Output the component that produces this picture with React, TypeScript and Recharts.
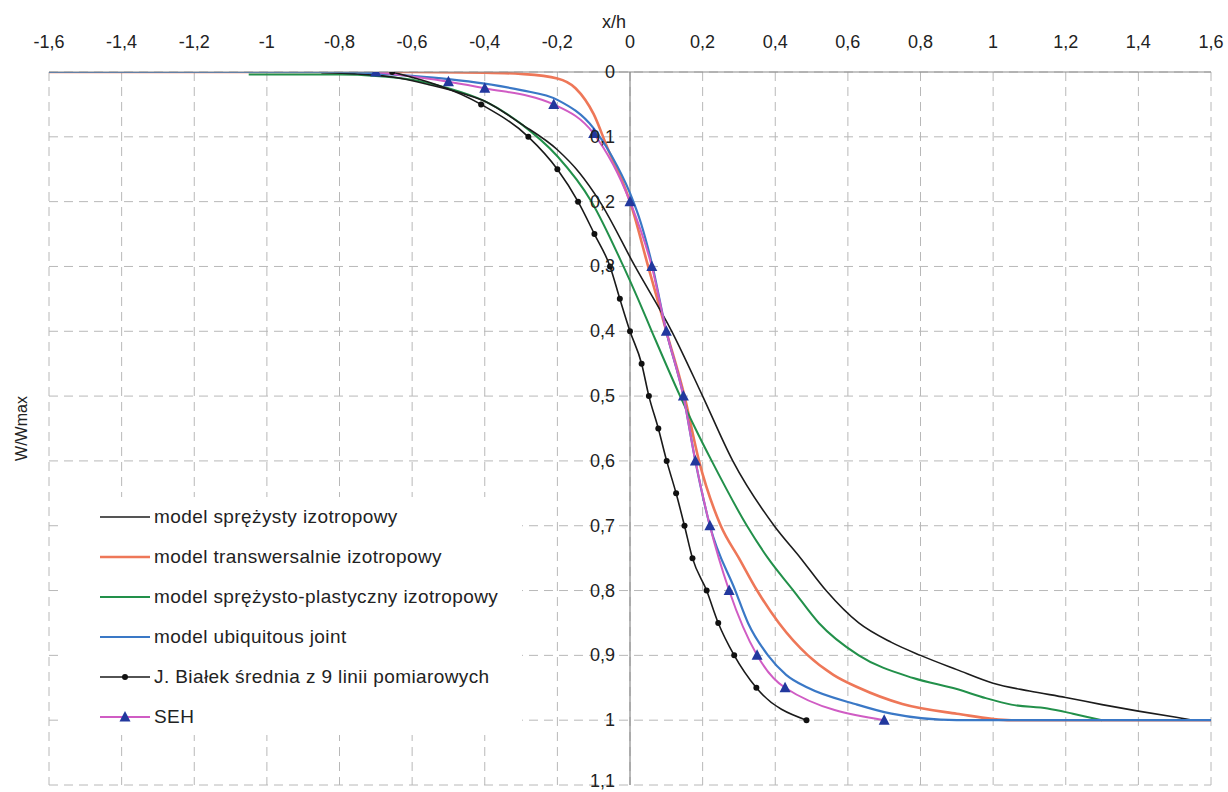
import React from 'react';
import { LineChart, Line, XAxis, YAxis, CartesianGrid, ReferenceLine, Legend } from 'recharts';

// ---- axis ticks ----
const X_TICKS = [-1.6, -1.4, -1.2, -1, -0.8, -0.6, -0.4, -0.2, 0, 0.2, 0.4, 0.6, 0.8, 1, 1.2, 1.4, 1.6];
const Y_TICKS = [0, 0.1, 0.2, 0.3, 0.4, 0.5, 0.6, 0.7, 0.8, 0.9, 1, 1.1];

// ---- series: model sprężysty izotropowy ----
const elasticX = [-0.85, -0.75, -0.65, -0.55, -0.45, -0.4, -0.3, -0.2, -0.14, -0.083, 0.014, 0.115, 0.2, 0.283, 0.397, 0.47, 0.54, 0.63, 0.72, 0.8, 0.9, 1.0, 1.1, 1.2, 1.3, 1.4, 1.5, 1.56, 1.6];
const elasticY = [0.001, 0.003, 0.008, 0.02, 0.035, 0.045, 0.08, 0.12, 0.155, 0.2, 0.3, 0.4, 0.5, 0.6, 0.7, 0.75, 0.8, 0.85, 0.88, 0.9, 0.922, 0.943, 0.955, 0.965, 0.976, 0.986, 0.995, 1.0, 1.0];

// ---- model transwersalnie izotropowy ----
const transX = [-1.6, -0.6, -0.4, -0.3, -0.2, -0.15, -0.1, -0.06, -0.02, 0, 0.05, 0.1, 0.15, 0.19, 0.25, 0.3, 0.35, 0.41, 0.49, 0.56, 0.63, 0.75, 0.9, 1.05, 1.6];
const transY = [0, 0, 0.001, 0.003, 0.01, 0.025, 0.065, 0.12, 0.17, 0.2, 0.3, 0.4, 0.5, 0.6, 0.7, 0.75, 0.8, 0.85, 0.9, 0.93, 0.95, 0.975, 0.99, 1.0, 1.0];

// ---- model sprężysto-plastyczny izotropowy ----
const plasticX = [-1.05, -0.8, -0.7, -0.6, -0.5, -0.4, -0.3, -0.2, -0.106, -0.018, 0.022, 0.06, 0.138, 0.18, 0.225, 0.322, 0.38, 0.45, 0.52, 0.63, 0.78, 0.9, 0.98, 1.05, 1.15, 1.22, 1.3];
const plasticY = [0.004, 0.004, 0.006, 0.012, 0.025, 0.045, 0.08, 0.13, 0.2, 0.3, 0.35, 0.4, 0.5, 0.55, 0.6, 0.7, 0.75, 0.8, 0.85, 0.9, 0.935, 0.952, 0.966, 0.976, 0.982, 0.99, 1.0];

// ---- model ubiquitous joint ----
const ubiqX = [-1.6, -0.8, -0.7, -0.6, -0.5, -0.4, -0.3, -0.2, -0.1, -0.05, 0, 0.03, 0.06, 0.1, 0.147, 0.18, 0.22, 0.29, 0.325, 0.38, 0.43, 0.49, 0.62, 0.72, 0.9, 1.6];
const ubiqY = [0, 0, 0.002, 0.006, 0.011, 0.018, 0.028, 0.043, 0.087, 0.13, 0.187, 0.233, 0.295, 0.4, 0.5, 0.6, 0.7, 0.8, 0.85, 0.9, 0.93, 0.95, 0.975, 0.99, 1.0, 1.0];

// ---- J. Białek średnia z 9 linii pomiarowych ----
const bialekX = [-0.655, -0.41, -0.28, -0.2, -0.143, -0.098, -0.055, -0.028, 0, 0.032, 0.052, 0.078, 0.101, 0.127, 0.15, 0.172, 0.211, 0.243, 0.287, 0.348, 0.486];
const bialekY = [0, 0.05, 0.1, 0.15, 0.2, 0.25, 0.3, 0.35, 0.4, 0.45, 0.5, 0.55, 0.6, 0.65, 0.7, 0.75, 0.8, 0.85, 0.9, 0.95, 1.0];

// ---- SEH ----
const sehX = [-0.7, -0.5, -0.4, -0.21, -0.1, 0, 0.06, 0.1, 0.147, 0.18, 0.22, 0.273, 0.35, 0.427, 0.7];
const sehY = [0, 0.015, 0.025, 0.05, 0.095, 0.2, 0.3, 0.4, 0.5, 0.6, 0.7, 0.8, 0.9, 0.95, 1.0];

const toPts = (xs: number[], ys: number[]) => xs.map((x, i) => ({ x, y: ys[i] }));

const FONT = '"Liberation Sans", Arial, Helvetica, sans-serif';
const W = 1228;
const H = 792;
const Y_AXIS_W = 49;
const RIGHT = 17;
const PLOT_W = W - Y_AXIS_W - RIGHT;
const X_MIN = -1.6;
const X_MAX = 1.6;
const ZERO_X = Y_AXIS_W + (PLOT_W * (0 - X_MIN)) / (X_MAX - X_MIN);

const fmt = (v: number) => String(Number(v.toFixed(1))).replace('.', ',');

type Series = {
  name: string;
  data: { x: number; y: number }[];
  color: string;
  width: number;
  marker?: 'dot' | 'tri';
  markerColor?: string;
};

const SERIES_TRANS: Series = { name: 'model transwersalnie izotropowy', data: toPts(transX, transY), color: '#EE7758', width: 2.6 };
const SERIES_PLASTIC: Series = { name: 'model sprężysto-plastyczny izotropowy', data: toPts(plasticX, plasticY), color: '#22904A', width: 2 };
const SERIES_ELASTIC: Series = { name: 'model sprężysty izotropowy', data: toPts(elasticX, elasticY), color: '#1c1c1c', width: 1.6 };
const SERIES_UBIQ: Series = { name: 'model ubiquitous joint', data: toPts(ubiqX, ubiqY), color: '#3A78C6', width: 2.2 };
const SERIES_SEH: Series = { name: 'SEH', data: toPts(sehX, sehY), color: '#D05CC4', width: 2, marker: 'tri', markerColor: '#22389E' };
const SERIES_BIALEK: Series = { name: 'J. Białek średnia z 9 linii pomiarowych', data: toPts(bialekX, bialekY), color: '#1a1a1a', width: 1.6, marker: 'dot', markerColor: '#111' };

const DRAW_ORDER = [SERIES_TRANS, SERIES_PLASTIC, SERIES_ELASTIC, SERIES_UBIQ, SERIES_SEH, SERIES_BIALEK];
const LEGEND_ORDER = [SERIES_ELASTIC, SERIES_TRANS, SERIES_PLASTIC, SERIES_UBIQ, SERIES_BIALEK, SERIES_SEH];

const Triangle = ({ cx, cy, color }: { cx: number; cy: number; color: string }) => (
  <polygon points={`${cx},${cy - 6} ${cx + 5.5},${cy + 4.5} ${cx - 5.5},${cy + 4.5}`} fill={color} />
);

const renderMarker = (s: Series) => (props: any) => {
  const { cx, cy, index } = props;
  if (cx == null || cy == null) return <g key={`e-${index}`} />;
  if (s.marker === 'tri') return <Triangle key={`t-${index}`} cx={cx} cy={cy} color={s.markerColor || s.color} />;
  return <circle key={`c-${index}`} cx={cx} cy={cy} r={3} fill={s.markerColor || s.color} />;
};

const YTick = (props: any) => {
  const { y, payload } = props;
  const baseline = Math.min(y + 6, H - 5);
  return (
    <text x={ZERO_X - 15} y={baseline} textAnchor="end" fontSize={18} fill="#222" fontFamily={FONT}>
      {fmt(payload.value)}
    </text>
  );
};

const LegendBox = () => (
  <div style={{ fontFamily: FONT, fontSize: 19, letterSpacing: 0.4, color: '#222' }}>
    {LEGEND_ORDER.map((s) => (
      <div key={s.name} style={{ height: 40, display: 'flex', alignItems: 'center', paddingLeft: 40 }}>
        <svg width={50} height={14} style={{ display: 'block', flex: 'none' }}>
          <line x1={0} y1={7} x2={50} y2={7} stroke={s.color} strokeWidth={s.width} />
          {s.marker === 'dot' && <circle cx={25} cy={7} r={3} fill={s.markerColor} />}
          {s.marker === 'tri' && <Triangle cx={25} cy={7} color={s.markerColor || s.color} />}
        </svg>
        <span style={{ marginLeft: 4, whiteSpace: 'nowrap' }}>{s.name}</span>
      </div>
    ))}
  </div>
);

export default function App() {
  return (
    <div style={{ position: 'absolute', left: 0, top: 0, width: W, height: H, background: '#fff', fontFamily: FONT }}>
      <LineChart width={W} height={H} margin={{ top: 0, right: RIGHT, bottom: 7, left: 0 }}>
        <CartesianGrid stroke="#b8b8b8" strokeDasharray="9 6" strokeWidth={1} />
        <XAxis
          dataKey="x"
          type="number"
          orientation="top"
          domain={[X_MIN, X_MAX]}
          ticks={X_TICKS}
          interval={0}
          height={72}
          allowDataOverflow
          tickLine={false}
          tickSize={6}
          tickMargin={18}
          axisLine={{ stroke: '#8a8a8a', strokeWidth: 1.2 }}
          tick={{ fontSize: 18, fill: '#222', fontFamily: FONT }}
          tickFormatter={fmt}
          label={{
            content: (p: any) => {
              const vb = p.viewBox || {};
              return (
                <text x={vb.x + vb.width / 2 - 16} y={28} textAnchor="middle" fontSize={18} fill="#222" fontFamily={FONT}>
                  x/h
                </text>
              );
            },
          }}
        />
        <YAxis
          dataKey="y"
          type="number"
          domain={[0, 1.1]}
          ticks={Y_TICKS}
          interval={0}
          reversed
          allowDataOverflow
          width={Y_AXIS_W}
          axisLine={false}
          tickLine={false}
          tick={<YTick />}
          label={{
            content: (p: any) => {
              const vb = p.viewBox || {};
              const cx = 21;
              const cy = vb.y + vb.height / 2;
              return (
                <text x={cx} y={cy} transform={`rotate(-90 ${cx} ${cy})`} textAnchor="middle" dominantBaseline="central" fontSize={16} fill="#222" fontFamily={FONT}>
                  W/Wmax
                </text>
              );
            },
          }}
        />
        <ReferenceLine x={0} stroke="#8a8a8a" strokeWidth={1.2} />
        {DRAW_ORDER.map((s) => (
          <Line
            key={s.name}
            data={s.data}
            dataKey="y"
            name={s.name}
            type="monotone"
            stroke={s.color}
            strokeWidth={s.width}
            dot={s.marker ? renderMarker(s) : false}
            activeDot={false}
            isAnimationActive={false}
          />
        ))}
        <Legend
          layout="horizontal"
          verticalAlign="middle"
          align="center"
          content={() => <LegendBox />}
          wrapperStyle={{ left: 60, top: 497, width: 462, height: 238, backgroundColor: '#fff' }}
        />
      </LineChart>
    </div>
  );
}
